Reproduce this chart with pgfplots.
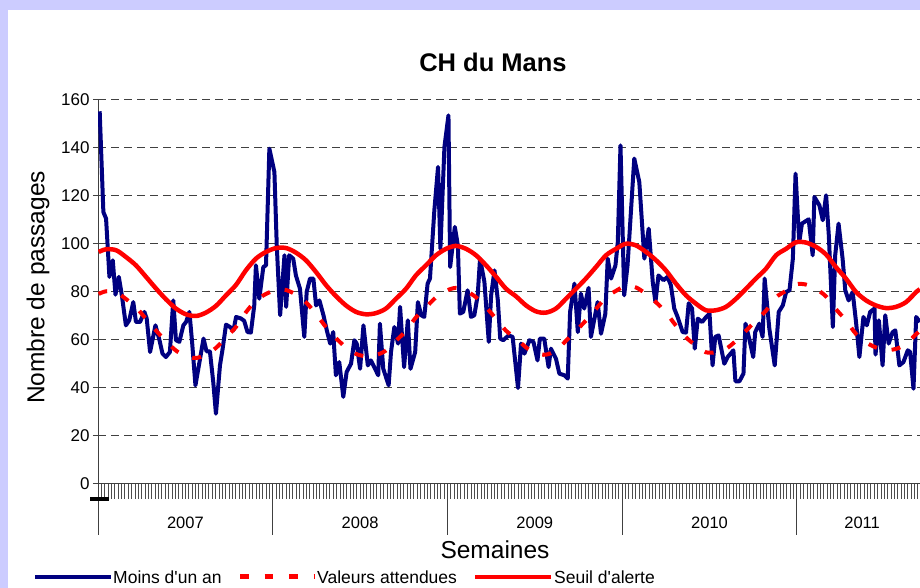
\documentclass[border=0pt]{standalone}
\usepackage{pgfplots}
\pgfplotsset{compat=1.18}
\usepackage{fontspec}
\setmainfont{Liberation Sans}
\definecolor{lav}{RGB}{204,204,255}
\definecolor{navy}{RGB}{0,0,128}
\definecolor{redd}{RGB}{255,0,0}
\begin{document}
\begin{tikzpicture}[x=1pt,y=1pt]
\useasboundingbox (0,0) rectangle (920,588);
\clip (0,0) rectangle (920,588);
\fill[lav] (0,0) rectangle (920,588);
\fill[white] (7.5,0) rectangle (925,577.5);
\begin{axis}[
  at={(98pt,104pt)}, anchor=south west,
  scale only axis, width=822pt, height=384pt,
  xmin=0, xmax=244.64, ymin=0, ymax=160,
  axis lines*=left,
  axis line style={black!75, line width=1pt},
  ytick={0,20,...,160},
  xtick={0,1,...,244}, xticklabels={},
  ymajorgrids,
  grid style={black!75, line width=1pt, dash pattern=on 8pt off 5pt},
  tick align=outside, major tick length=5pt,
  xtick style={/pgfplots/major tick length=15pt, black!70, line width=0.8pt},
  ytick style={black!75, line width=1pt},
  yticklabel style={font=\fontsize{17}{18}\selectfont},
  /pgf/number format/assume math mode=true,
  clip mode=individual,
]
\addplot[navy, line width=4pt, line join=round] table {
0.5 155.3
1.6 113.3
2.4 110.6
3.4 86.3
4.4 93.2
5.2 78.9
6.2 86.3
7.1 78.6
8.3 66.1
9.3 68.2
10.5 75.8
11.3 67.5
12.5 67.5
13.8 71.7
14.5 68.9
15.5 55.0
17.1 66.1
18.3 59.9
19.2 54.3
20.2 52.9
21.4 55.0
22.4 76.5
23.2 59.9
24.2 59.2
25.4 66.1
26.2 67.5
27.2 71.7
28.0 59.2
29.0 41.1
30.2 50.8
31.4 60.6
32.3 55.3
33.3 55.3
34.3 42.5
35.1 29.3
36.3 49.4
37.1 56.4
38.1 66.4
39.3 65.4
40.3 64.0
41.1 69.6
42.5 69.0
43.5 68.0
44.5 63.3
45.5 63.1
46.5 74.4
47.0 91.1
48.0 77.2
49.2 90.4
50.0 91.1
51.0 139.7
52.5 130.0
53.2 99.4
54.2 70.3
55.5 95.3
56.0 73.8
56.9 95.3
58.1 93.9
58.9 86.9
60.1 81.4
61.4 61.3
62.1 80.0
63.1 85.6
64.1 85.6
64.9 74.4
65.9 76.5
67.1 70.3
68.1 64.0
69.1 58.5
70.0 63.3
70.8 45.3
71.8 50.8
73.0 36.3
74.0 46.7
75.3 50.1
76.3 59.9
77.0 58.5
78.0 48.0
79.0 66.1
80.3 49.4
81.2 51.5
82.2 48.7
83.4 45.3
83.9 66.8
84.9 48.0
86.5 41.1
87.2 55.0
88.2 65.4
89.3 58.5
89.9 73.8
91.1 48.7
92.2 68.2
93.0 48.0
94.4 55.0
95.2 75.8
96.2 70.3
97.1 69.6
98.1 83.5
98.8 85.6
100.1 114.0
101.2 132.1
101.9 98.0
103.1 140.4
104.3 153.6
104.8 90.4
106.2 107.1
107.1 99.4
107.7 71.0
108.7 71.7
110.0 80.7
111.0 69.6
112.0 70.3
113.0 78.6
113.7 93.9
115.0 84.2
116.3 59.2
117.0 78.6
118.0 89.0
119.0 76.5
119.7 60.6
120.6 59.9
122.2 61.9
123.4 61.3
125.0 40.0
125.9 58.5
126.9 54.3
128.4 59.9
129.6 59.2
130.8 51.5
131.5 60.6
132.8 60.6
134.1 48.7
134.8 56.4
136.3 52.2
137.3 46.0
138.8 45.3
139.8 43.9
140.5 71.7
141.8 83.5
142.8 63.3
143.7 79.3
144.7 73.1
146.0 81.7
146.7 61.3
148.7 75.8
149.7 62.6
151.0 71.0
151.7 93.9
152.7 85.6
154.0 91.1
154.7 100.8
155.5 141.1
156.6 78.6
157.6 91.1
159.6 135.6
161.1 125.8
162.6 93.9
163.9 106.4
165.1 84.2
165.9 75.8
166.8 86.9
168.3 84.9
169.5 86.3
170.5 82.8
171.5 73.1
172.5 69.6
174.0 63.3
175.0 63.1
175.8 75.3
176.8 73.1
177.6 56.4
178.5 68.9
179.8 67.5
181.0 69.6
182.0 71.0
182.9 49.4
183.7 61.3
184.7 61.9
186.4 50.1
187.4 52.9
189.1 55.7
189.7 42.8
190.9 42.8
192.1 46.0
192.7 66.8
193.8 60.6
195.0 52.9
195.6 63.3
196.8 66.8
197.8 61.3
198.4 85.6
199.8 64.7
201.4 49.4
202.6 71.7
203.8 74.4
204.8 80.0
205.8 80.7
206.8 93.9
207.6 129.3
208.7 100.8
209.5 108.5
211.5 110.3
212.7 95.3
213.2 119.6
214.7 116.1
215.7 109.9
216.7 120.3
217.5 103.6
218.7 65.4
219.4 95.3
220.4 108.5
221.6 93.9
222.4 80.7
223.4 76.5
224.6 80.0
225.6 67.5
226.6 52.9
227.8 69.6
228.8 66.1
229.8 71.7
231.1 73.1
231.4 53.9
232.4 68.2
233.5 49.4
234.3 70.3
235.3 58.5
236.5 63.3
237.3 64.0
238.5 49.4
239.7 50.8
241.0 55.7
241.7 55.0
242.7 39.7
243.5 69.6
244.6 67.5
};
\addplot[redd, line width=4pt, smooth, dash pattern=on 9pt off 15pt] table {
0.2 79.2
2.4 80.3
5.4 79.9
8.3 77.1
11.3 73.6
14.3 68.8
17.3 63.9
20.2 59.5
23.2 55.6
26.2 53.2
29.2 52.5
32.1 53.9
35.1 56.7
38.1 61.1
41.1 65.5
44.0 71.5
47.0 76.4
50.0 79.2
53.0 80.8
56.0 80.8
58.9 78.9
61.9 75.7
64.9 70.8
67.9 65.3
70.8 60.8
73.8 56.9
76.8 54.2
79.8 53.2
82.7 53.7
85.7 55.6
88.7 59.7
91.7 63.9
94.6 69.4
97.6 73.6
100.6 77.8
103.6 80.5
106.5 81.7
109.5 80.5
112.5 77.8
115.5 73.6
118.5 68.8
121.4 63.9
124.4 60.7
127.4 56.9
130.4 54.4
133.3 53.9
136.3 55.6
139.3 59.7
142.3 63.9
145.2 68.1
148.2 72.9
151.2 77.8
154.2 80.5
157.1 82.6
160.1 81.9
163.1 79.2
166.1 75.7
169.0 71.5
172.0 66.0
175.0 61.1
178.0 57.6
180.9 54.9
183.9 54.9
186.9 56.3
189.9 59.7
192.9 63.9
195.8 68.1
198.8 72.2
201.8 77.8
204.8 80.5
207.7 83.2
210.7 83.1
213.7 81.3
216.7 78.1
219.6 72.9
222.6 68.1
225.6 62.5
228.6 59.0
231.5 56.9
234.5 55.8
237.5 56.3
240.5 58.3
243.5 62.5
244.6 63.6
};
\addplot[redd, line width=4.5pt, smooth] table {
0.2 96.7
2.4 97.8
5.4 97.4
8.3 94.6
11.3 91.1
14.3 86.3
17.3 81.4
20.2 77.0
23.2 73.1
26.2 70.7
29.2 70.0
32.1 71.4
35.1 74.2
38.1 78.6
41.1 83.0
44.0 89.0
47.0 93.9
50.0 96.7
53.0 98.3
56.0 98.3
58.9 96.4
61.9 93.2
64.9 88.3
67.9 82.8
70.8 78.3
73.8 74.4
76.8 71.7
79.8 70.7
82.7 71.2
85.7 73.1
88.7 77.2
91.7 81.4
94.6 86.9
97.6 91.1
100.6 95.3
103.6 98.0
106.5 99.2
109.5 98.0
112.5 95.3
115.5 91.1
118.5 86.3
121.4 81.4
124.4 78.2
127.4 74.4
130.4 71.9
133.3 71.4
136.3 73.1
139.3 77.2
142.3 81.4
145.2 85.6
148.2 90.4
151.2 95.3
154.2 98.0
157.1 100.1
160.1 99.4
163.1 96.7
166.1 93.2
169.0 89.0
172.0 83.5
175.0 78.6
178.0 75.1
180.9 72.4
183.9 72.4
186.9 73.8
189.9 77.2
192.9 81.4
195.8 85.6
198.8 89.7
201.8 95.3
204.8 98.0
207.7 100.7
210.7 100.6
213.7 98.8
216.7 95.6
219.6 90.4
222.6 85.6
225.6 80.0
228.6 76.5
231.5 74.4
234.5 73.3
237.5 73.8
240.5 75.8
243.5 80.0
244.6 81.1
};
\draw[black!75, line width=1pt] (axis cs:0,0) -- ++(0,-51pt);
\draw[black!75, line width=1pt] (axis cs:52,0) -- ++(0,-51pt);
\draw[black!75, line width=1pt] (axis cs:104,0) -- ++(0,-51pt);
\draw[black!75, line width=1pt] (axis cs:156,0) -- ++(0,-51pt);
\draw[black!75, line width=1pt] (axis cs:208,0) -- ++(0,-51pt);
\node[font=\fontsize{16.5}{18}\selectfont] at (axis cs:26,0) [yshift=-39pt] {2007};
\node[font=\fontsize{16.5}{18}\selectfont] at (axis cs:78,0) [yshift=-39pt] {2008};
\node[font=\fontsize{16.5}{18}\selectfont] at (axis cs:130,0) [yshift=-39pt] {2009};
\node[font=\fontsize{16.5}{18}\selectfont] at (axis cs:182,0) [yshift=-39pt] {2010};
\node[font=\fontsize{16.5}{18}\selectfont] at (axis cs:227.4,0) [yshift=-39pt] {2011};
\end{axis}
\fill[black] (90,87) rectangle (109,91);
\node[font=\fontsize{25.5}{30}\selectfont\bfseries] at (493,525.5) {CH du Mans};
\node[rotate=90, font=\fontsize{24.5}{29}\selectfont] at (38,300.5) {Nombre de passages};
\node[font=\fontsize{24.5}{29}\selectfont] at (495,38) {Semaines};
\draw[navy, line width=4pt] (35,11) -- (111,11);
\node[anchor=west, inner sep=0pt, font=\fontsize{17.5}{20}\selectfont] at (113,11) {Moins d\textquotesingle un an};
\draw[redd, line width=5pt, dash pattern=on 8.5pt off 16pt] (240,11) -- (314,11);
\node[anchor=west, inner sep=0pt, font=\fontsize{17.5}{20}\selectfont] at (317,11) {Valeurs attendues};
\draw[redd, line width=4.5pt] (475,11) -- (551,11);
\node[anchor=west, inner sep=0pt, font=\fontsize{17.5}{20}\selectfont] at (554,11) {Seuil d\textquotesingle alerte};
\end{tikzpicture}
\end{document}
